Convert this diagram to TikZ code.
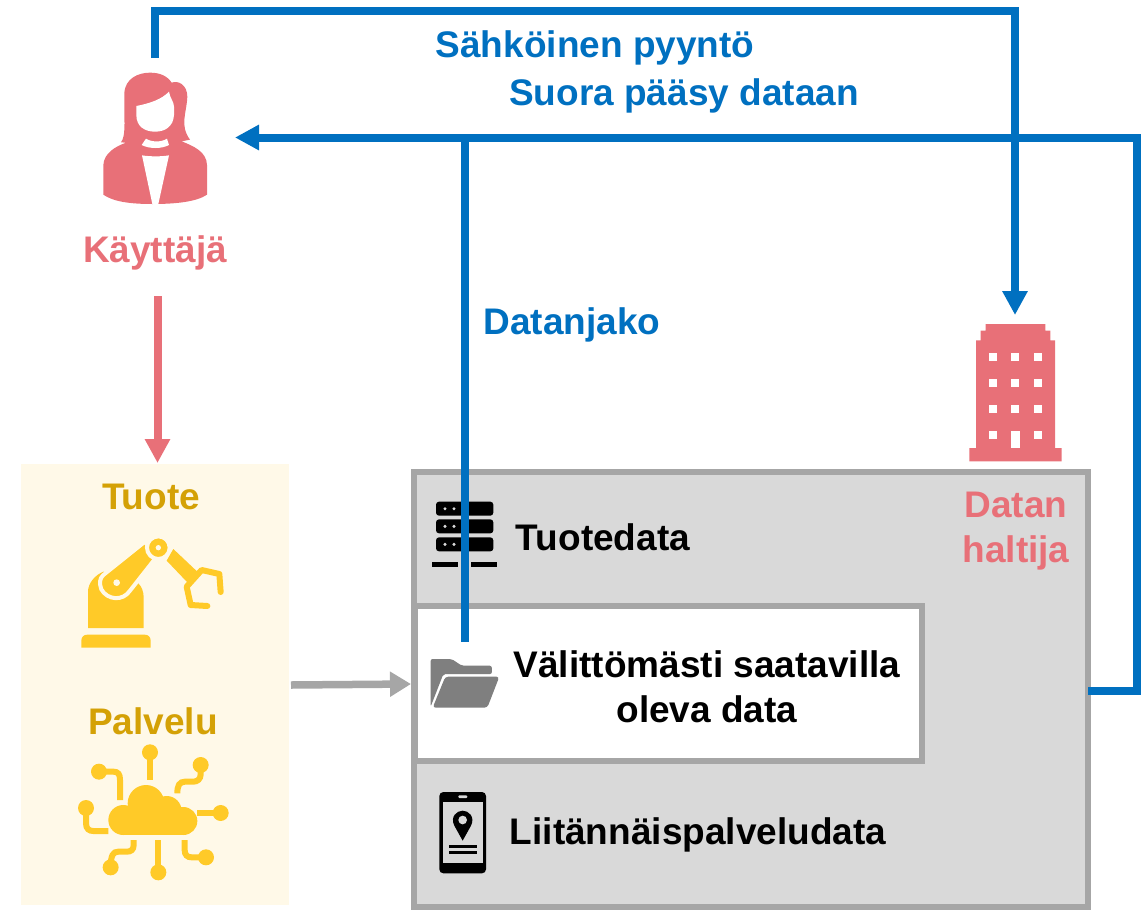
\documentclass[tikz,border=0pt]{standalone}
\usepackage{fontspec}
\setmainfont{Liberation Sans}
\usetikzlibrary{arrows.meta}
\definecolor{blueline}{HTML}{0070C0}
\definecolor{pinkc}{HTML}{E87078}
\definecolor{goldtxt}{HTML}{D4A106}
\definecolor{goldic}{HTML}{FFCA28}
\definecolor{creamc}{HTML}{FFF9E8}
\definecolor{grayline}{HTML}{A6A6A6}
\definecolor{grayfill}{HTML}{D9D9D9}
\definecolor{folderc}{HTML}{7F7F7F}
\tikzset{
  lbl/.style={font=\fontsize{37}{41}\selectfont\bfseries,inner sep=0pt,align=center},
  bluelbl/.style={lbl,text=blueline},
  pinklbl/.style={lbl,text=pinkc},
  goldlbl/.style={lbl,text=goldtxt},
  blacklbl/.style={lbl,text=black},
  blueconn/.style={draw=blueline,line width=8pt},
  bluearrow/.style={blueconn,-{Triangle[length=24pt,width=24pt]}},
  boxstyle/.style={draw=grayline,line width=6pt,inner sep=0pt,outer sep=0pt,anchor=north west},
  wire/.style={draw=goldic,line width=6pt},
}
\begin{document}
\begin{tikzpicture}[x=1pt,y=-1pt]
\useasboundingbox (0,0) rectangle (1143,911);
% panels
\node[fill=creamc,inner sep=0pt,outer sep=0pt,anchor=north west,minimum width=268pt,minimum height=441pt] (productpanel) at (21,464) {};
\node[boxstyle,fill=grayfill,minimum width=674pt,minimum height=435pt] (datapanel) at (414,472) {};
\node[boxstyle,fill=white,minimum width=507pt,minimum height=155pt] (readybox) at (415,606) {};
% connector ends
\coordinate (userTop) at (155,58);
\coordinate (c1a) at (155,11);
\coordinate (c1b) at (1015,11);
\coordinate (holderTop) at (1015,315);
\coordinate (panelOut) at (1088,691);
\coordinate (c2a) at (1137,691);
\coordinate (c2b) at (1137,137.5);
\coordinate (userRight) at (235,137.5);
\coordinate (shareStart) at (465,641.5);
\coordinate (shareEnd) at (465,137.5);
\coordinate (userBottom) at (157.5,296);
\coordinate (productTop) at (157.5,463);
\coordinate (productRight) at (291,685);
\coordinate (readyLeft) at (411,684);
% woman
\begin{scope}[shift={(60,50)},scale=1/3]
\fill[pinkc] (183,277) .. controls (197,258) and (193,220) .. (193,170) -- (193,130)
  .. controls (195,85) and (235,68) .. (270,68) .. controls (300,68) and (322,78) .. (335,98)
  .. controls (355,90) and (382,105) .. (382,140) .. controls (380,190) and (358,225) .. (390,269)
  -- (365,274) .. controls (400,288) and (440,305) .. (441,345) -- (441,434)
  .. controls (410,455) and (350,462) .. (277,462) .. controls (210,462) and (160,455) .. (130,434)
  -- (130,345) .. controls (132,310) and (165,290) .. (198,278) -- cycle;
\fill[white] (229,168) .. controls (270,160) and (305,148) .. (327,125) .. controls (330,145) and (342,155) .. (342,170)
  -- (342,195) .. controls (340,230) and (315,245) .. (285,245) .. controls (255,245) and (229,230) .. (229,195) -- cycle;
\fill[white] (258,266) .. controls (275,277) and (305,277) .. (321,266) -- (327,285) .. controls (305,297) and (268,297) .. (245,285) -- cycle;
\fill[white] (246,316) .. controls (270,320) and (305,320) .. (327,316) -- (295,462) -- (277,462) -- cycle;
\end{scope}
% robot
\begin{scope}[shift={(60,520)},scale=1/3]
\fill[goldic] (64,383) -- (64,362) .. controls (64,350) and (72,344) .. (82,344) -- (254,344) .. controls (264,344) and (272,350) .. (272,362) -- (272,383) -- cycle;
\fill[goldic] (84,324) -- (84,215) .. controls (84,190) and (105,165) .. (130,155) -- (235,190) .. controls (245,200) and (251,215) .. (251,232) -- (251,324) -- cycle;
\filldraw[fill=goldic,draw=creamc,line width=4pt] (130,165) -- (256,64) -- (284,118) -- (210,212) .. controls (188,245) and (142,240) .. (124,208) .. controls (118,190) and (118,176) .. (130,165) -- cycle;
\fill[creamc] (170,188) circle (10);
\filldraw[fill=goldic,draw=creamc,line width=4pt] (295,83) circle (34);
\fill[creamc] (295,83) circle (8);
\fill[goldic] (340,87) -- (412,155) -- (382,187) -- (320,122) -- cycle;
\draw[goldic,line width=6pt,line cap=round,line join=round] (482,216) -- (478,162) -- (425,150) -- (380,200) -- (392,255) -- (442,258);
\end{scope}
% cloud
\begin{scope}[shift={(60,735)},scale=1/3]
\fill[goldic] (190,255) circle (45) (258,205) circle (55) (320,228) circle (45) (370,258) circle (42);
\fill[goldic] (190,230) rectangle (370,300);
\foreach \cx/\cy in {270/52,422/90,482/234,438/367,295/412,152/397,78/219,117/110}
  \fill[goldic] (\cx,\cy) circle (24);
\draw[wire] (270,52) -- (270,135);
\draw[wire] (422,100) -- (422,118) .. controls (422,132) and (412,140) .. (400,140) -- (375,140) .. controls (358,140) and (352,152) .. (352,175);
\draw[wire] (412,234) -- (482,234);
\draw[wire] (374,315) -- (374,345) .. controls (374,360) and (382,367) .. (395,367) -- (438,367);
\draw[wire] (295,315) -- (295,412);
\draw[wire] (221,315) -- (221,330) .. controls (221,345) and (212,350) .. (200,350) -- (175,350) .. controls (160,350) and (152,360) .. (152,397);
\draw[wire] (78,219) -- (78,265) .. controls (78,282) and (88,288) .. (100,288) -- (145,288);
\draw[wire] (117,110) -- (160,110) .. controls (175,110) and (180,118) .. (180,135) -- (180,195);
\end{scope}
% building
\begin{scope}[shift={(950,310)},scale=1/3]
\fill[pinkc] (107,42) -- (286,42) -- (286,62) -- (301,62) -- (301,91) -- (315,91) -- (315,414) -- (335,414) -- (335,454) -- (58,454) -- (58,414) -- (78,414) -- (78,91) -- (92,91) -- (92,62) -- (107,62) -- cycle;
\foreach \wx in {117,184,252}
  \foreach \wy in {130,207,285}
    \fill[white] (\wx,\wy) rectangle ++(24,24);
\fill[white] (117,362) rectangle ++(24,24);
\fill[white] (252,362) rectangle ++(24,24);
\fill[white] (184,362) rectangle ++(25,52);
\end{scope}
% server
\begin{scope}[shift={(410,490)},scale=1/3]
\foreach \sy in {35,88,142}{
  \fill[black,rounded corners=3pt] (78,\sy) rectangle ++(172,42);
  \fill[grayfill] (105,\sy+21) circle (5) (132,\sy+21) circle (5);
}
\fill[black] (67,216) rectangle (145,232);
\fill[black] (183,216) rectangle (261,232);
% folder
\fill[folderc,rounded corners=2pt] (62,650) -- (62,507) -- (125,507) -- (155,527) -- (245,527) -- (246,552) -- (100,552) -- cycle;
\fill[folderc,rounded corners=3pt] (68,653) -- (106,560) -- (268,560) -- (232,653) -- cycle;
\end{scope}
% phone
\begin{scope}[shift={(410,770)},scale=1/3]
\fill[black,rounded corners=4pt] (88,66) rectangle (228,310);
\fill[grayfill] (98,95) rectangle (218,280);
\fill[grayfill,rounded corners=1pt] (145,76) rectangle (172,84);
\fill[black] (158,212) -- (133,167) .. controls (120,140) and (140,122) .. (158,122) .. controls (176,122) and (196,140) .. (183,167) -- cycle;
\fill[grayfill] (158,150) circle (13);
\fill[black] (117,225) rectangle (201,235);
\fill[black] (117,243) rectangle (201,252);
\end{scope}
% connectors
\draw[bluearrow] (userTop) -- (c1a) -- (c1b) -- (holderTop);
\draw[bluearrow] (panelOut) -- (c2a) -- (c2b) -- (userRight);
\draw[blueconn] (shareStart) -- (shareEnd);
\draw[draw=pinkc,line width=8pt,-{Triangle[length=24pt,width=24pt]}] (userBottom) -- (productTop);
\draw[draw=grayline,line width=7.5pt,-{Triangle[length=21pt,width=24pt]}] (productRight) -- (readyLeft);
% labels
\node[bluelbl] (lblRequest) at (595,48) {Sähköinen pyyntö};
\node[bluelbl] (lblAccess) at (684,96) {Suora pääsy dataan};
\node[bluelbl] (lblShare) at (572,325) {Datanjako};
\node[pinklbl] (lblUser) at (155,253) {Käyttäjä};
\node[pinklbl] (lblHolder1) at (1016,505) {Datan};
\node[pinklbl] (lblHolder2) at (1016,553) {haltija};
\node[goldlbl] (lblProduct) at (151,497) {Tuote};
\node[goldlbl] (lblService) at (153,721) {Palvelu};
\node[blacklbl] (lblProdData) at (603,537) {Tuotedata};
\node[blacklbl] (lblReady1) at (707,664) {Välittömästi saatavilla};
\node[blacklbl] (lblReady2) at (707,709) {oleva data};
\node[blacklbl] (lblAddon) at (698,835) {Liitännäispalveludata};
\end{tikzpicture}
\end{document}
